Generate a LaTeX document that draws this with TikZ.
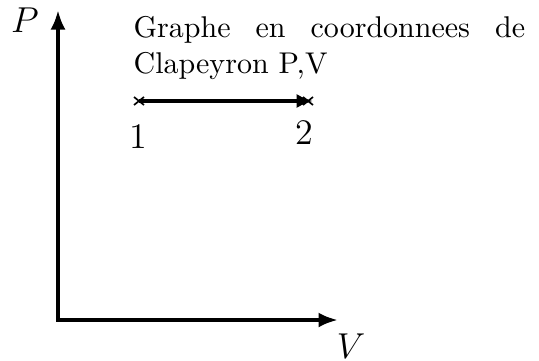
\documentclass[tikz,border=0pt]{standalone}
\usetikzlibrary{arrows.meta}
\begin{document}
\begin{tikzpicture}[x=0.33333pt,y=-0.33333pt,
  axis/.style={line width=1.45pt,{Latex[length=6.5pt,width=5pt]}-{Latex[length=6.5pt,width=5pt]}},
  proc/.style={line width=1.65pt,-{Latex[length=5.5pt,width=4.8pt]}},
  crossmark/.style={line width=0.55pt},
  lbl/.style={inner sep=0pt,anchor=base,font=\large}]
\useasboundingbox (0,0) rectangle (539,360);
\coordinate (O) at (58,320);
\coordinate (Ptop) at (58,10);
\coordinate (Vend) at (338,320);
\coordinate (p1) at (139,101);
\coordinate (p2) at (308,101);
\coordinate (p2tip) at (313,101);
\draw[axis] (Ptop) -- (O) -- (Vend);
\node[lbl] (P) at (25,32) {$P$};
\node[lbl] (V) at (351,358) {$V$};
\draw[proc] (p1) -- (p2tip);
\draw[crossmark] ([shift={(-5,-4)}]p1) -- ([shift={(5,4)}]p1) ([shift={(-5,4)}]p1) -- ([shift={(5,-4)}]p1);
\draw[crossmark] ([shift={(-5,-4)}]p2) -- ([shift={(5,4)}]p2) ([shift={(-5,4)}]p2) -- ([shift={(5,-4)}]p2);
\node[lbl] (n1) at (138,148) {1};
\node[lbl] (n2) at (304,144) {2};
\node[inner sep=0pt,anchor=north west,text width=130.5pt,align=justify] (title) at (133,16)
  {Graphe en coordonnees de Clapeyron P,V};
\end{tikzpicture}
\end{document}
